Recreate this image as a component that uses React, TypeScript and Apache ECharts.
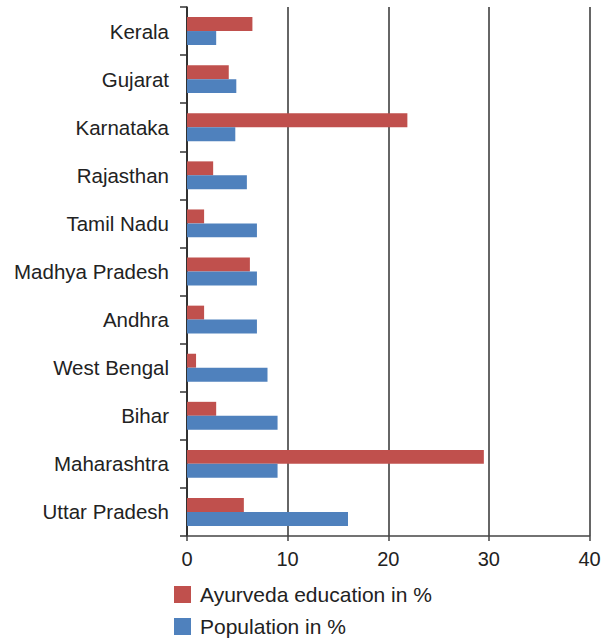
import React, { useEffect, useRef } from "react";
import * as echarts from "echarts";

const states = [
  "Kerala",
  "Gujarat",
  "Karnataka",
  "Rajasthan",
  "Tamil Nadu",
  "Madhya Pradesh",
  "Andhra",
  "West Bengal",
  "Bihar",
  "Maharashtra",
  "Uttar Pradesh",
];
const ayurveda = [6.5, 4.15, 21.9, 2.6, 1.7, 6.25, 1.7, 0.9, 2.9, 29.5, 5.65];
const population = [2.9, 4.9, 4.8, 5.95, 6.95, 6.95, 6.95, 8.0, 9.0, 9.0, 16.0];
const xTicks = { min: 0, max: 40, interval: 10 };

export default function App() {
  const ref = useRef<HTMLDivElement>(null);
  useEffect(() => {
    const chart = echarts.init(ref.current!, undefined, { renderer: "svg" });
    const font = "Liberation Sans, Arial, Helvetica, sans-serif";
    chart.setOption({
      animation: false,
      textStyle: { fontFamily: font },
      grid: { left: 187, right: 14.5, top: 7, bottom: 102, containLabel: false },
      legend: {
        orient: "vertical",
        left: 174,
        top: 584,
        padding: 0,
        itemWidth: 17,
        itemHeight: 17,
        itemGap: 11,
        icon: "rect",
        textStyle: { fontSize: 21, color: "#222", fontFamily: font, padding: [0, 0, 0, 4] },
        data: ["Ayurveda education in %", "Population in %"],
      },
      xAxis: {
        type: "value",
        min: xTicks.min,
        max: xTicks.max,
        interval: xTicks.interval,
        axisLine: { show: true, lineStyle: { color: "#444", width: 1.5 } },
        axisTick: { show: true, length: 5, lineStyle: { color: "#444", width: 1.5 } },
        axisLabel: { fontSize: 20, color: "#222", margin: 13, fontFamily: font },
        splitLine: { show: true, lineStyle: { color: "#333", width: 1.5 } },
      },
      yAxis: {
        type: "category",
        data: states,
        inverse: true,
        axisLine: { show: true, lineStyle: { color: "#222", width: 1.5 } },
        axisTick: { show: true, length: 7, lineStyle: { color: "#333", width: 1.5 } },
        axisLabel: { fontSize: 20.5, color: "#222", margin: 18, fontFamily: font },
      },
      series: [
        {
          name: "Ayurveda education in %",
          type: "bar",
          data: ayurveda,
          itemStyle: { color: "#C0504D" },
          barGap: "0%",
          barCategoryGap: "42%",
        },
        {
          name: "Population in %",
          type: "bar",
          data: population,
          itemStyle: { color: "#4F81BD" },
          barGap: "0%",
          barCategoryGap: "42%",
        },
      ],
    });
    return () => chart.dispose();
  }, []);
  return (
    <div
      ref={ref}
      style={{ position: "fixed", left: 0, top: 0, width: 604, height: 638, background: "#fff" }}
    />
  );
}
